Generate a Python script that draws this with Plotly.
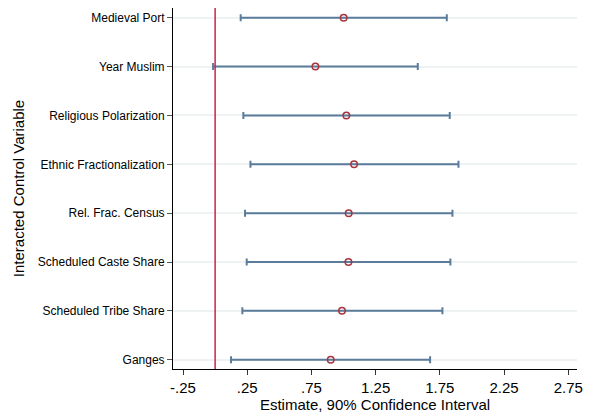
import plotly.graph_objects as go

categories = ["Medieval Port", "Year Muslim", "Religious Polarization", "Ethnic Fractionalization",
              "Rel. Frac. Census", "Scheduled Caste Share", "Scheduled Tribe Share", "Ganges"]
estimates = [1.001, 0.781, 1.022, 1.082, 1.040, 1.038, 0.988, 0.900]
ci_low = [0.199, -0.016, 0.220, 0.275, 0.233, 0.246, 0.212, 0.124]
ci_high = [1.804, 1.578, 1.827, 1.895, 1.848, 1.832, 1.770, 1.674]
x_ticks = [-0.25, 0.25, 0.75, 1.25, 1.75, 2.25, 2.75]
x_tick_labels = ["-.25", ".25", ".75", "1.25", "1.75", "2.25", "2.75"]

n = len(categories)
ypos = [n - 1 - i for i in range(n)]
err_plus = [h - e for h, e in zip(ci_high, estimates)]
err_minus = [e - l for e, l in zip(estimates, ci_low)]

fig = go.Figure()
fig.add_trace(go.Scatter(
    x=estimates, y=ypos, mode="markers",
    marker=dict(symbol="circle-open", size=6.5, color="#a8333d", line=dict(width=1.5, color="#a8333d")),
    error_x=dict(type="data", symmetric=False, array=err_plus, arrayminus=err_minus,
                 color="#5a7c9a", thickness=2, width=3.5),
    showlegend=False,
))
fig.add_shape(type="line", x0=0, x1=0, y0=0, y1=1, xref="x", yref="paper",
              line=dict(color="#c8244e", width=1.5))

fig.update_layout(
    width=586, height=406,
    margin=dict(l=165, r=17, t=0, b=45),
    paper_bgcolor="white", plot_bgcolor="white",
    font=dict(family="Liberation Sans, Arial, sans-serif", color="black"),
    xaxis=dict(range=[-0.328, 2.818], tickvals=x_ticks, ticktext=x_tick_labels,
               showgrid=False, zeroline=False, showline=True, linecolor="black", linewidth=1,
               ticks="outside", ticklen=5, tickcolor="#333", tickfont=dict(size=15),
               title=dict(text="Estimate, 90% Confidence Interval", font=dict(size=15), standoff=1)),
    yaxis=dict(range=[-0.19, 7.2], tickvals=ypos, ticktext=categories,
               showgrid=True, gridcolor="#eef2f2", gridwidth=1.5, zeroline=False,
               showline=True, linecolor="black", linewidth=1,
               ticks="outside", ticklen=5, tickcolor="#555", tickfont=dict(size=12),
               title=dict(text="Interacted Control Variable", font=dict(size=15), standoff=9)),
)

fig.write_html("out.html")
